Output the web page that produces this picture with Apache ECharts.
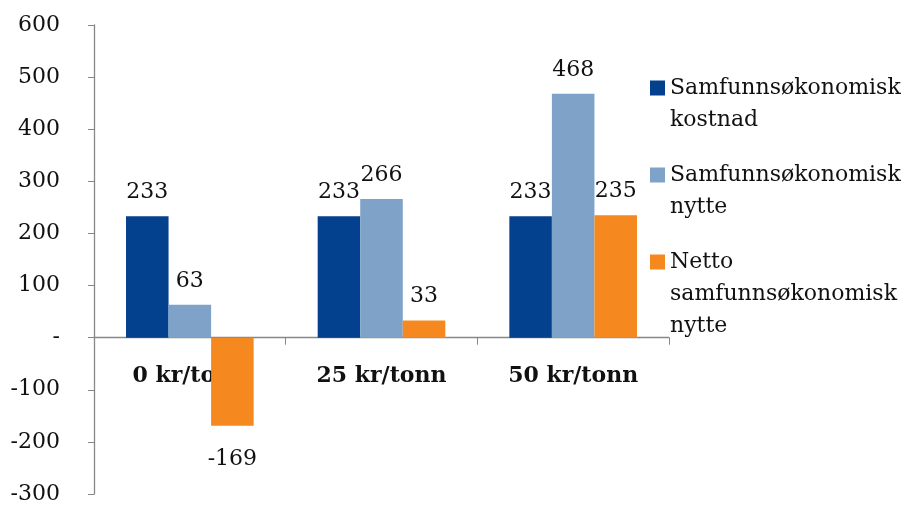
<!DOCTYPE html>
<html>
<head>
<meta charset="utf-8">
<script src="https://cdn.jsdelivr.net/npm/echarts@6/dist/echarts.min.js"></script>
<style>
  html, body { margin: 0; padding: 0; background: #fff; }
  #chart { width: 914px; height: 505px; }
</style>
</head>
<body>
<div id="chart"></div>
<script>
// data
const categories = ['0 kr/tonn', '25 kr/tonn', '50 kr/tonn']
const seriesNames = ['Samfunnsøkonomisk\nkostnad', 'Samfunnsøkonomisk\nnytte', 'Netto\nsamfunnsøkonomisk\nnytte']
const kostnad = [233, 233, 233]
const nytte = [63, 266, 468]
const netto = [-169, 33, 235]
const yTicks = [-300, -200, -100, 0, 100, 200, 300, 400, 500, 600]

const colors = ['#03418F', '#7FA2C9', '#F5891F']
const font = '"DejaVu Serif", serif'
const fs = 22
const lineH = 32

// grid box
const gridTop = 25, gridBottom = 11
const gridH = 505 - gridTop - gridBottom
// move the category axis up from the grid bottom to the zero line
const yMin = yTicks[0], yMax = yTicks[yTicks.length - 1]
const zeroShift = -gridH * (0 - yMin) / (yMax - yMin)

const chart = echarts.init(document.getElementById('chart'))

function makeSeries (name, values, color) {
  return {
    type: 'bar',
    name: name,
    barGap: '0%',
    barCategoryGap: '33.4%',
    itemStyle: { color: color },
    label: {
      show: true,
      position: 'top',
      distance: 13,
      color: '#111',
      fontFamily: font,
      fontSize: fs
    },
    // negative bars get their label under the bar
    data: values.map(v => v < 0 ? { value: v, label: { position: 'bottom', distance: 23 } } : v)
  }
}

// one legend per series; blank lines in front keep the icon on the first text line
const legendTops = [40, 127, 182]
const legends = seriesNames.map((n, i) => {
  const lines = n.split('\n').length
  return {
    data: [n],
    formatter: name => '\n'.repeat(lines - 1) + name,
    left: 650,
    top: legendTops[i],
    padding: 0,
    itemWidth: 15,
    itemHeight: 15,
    icon: 'rect',
    selectedMode: false,
    textStyle: {
      fontFamily: font,
      fontSize: fs,
      lineHeight: lineH,
      color: '#111'
    }
  }
})

const option = {
  animation: false,
  grid: { left: 94, right: 245, top: gridTop, bottom: gridBottom, outerBoundsMode: 'none' },
  legend: legends,
  xAxis: {
    type: 'category',
    data: categories,
    offset: zeroShift,
    axisLine: { onZero: false, lineStyle: { color: '#878787', width: 1.3 } },
    axisTick: { show: true, length: 7, lineStyle: { color: '#878787' } },
    axisLabel: {
      margin: 28,
      color: '#111',
      fontFamily: font,
      fontSize: fs,
      fontWeight: 'bold'
    }
  },
  yAxis: {
    type: 'value',
    min: yMin,
    max: yMax,
    interval: 100,
    axisLine: { show: true, lineStyle: { color: '#878787', width: 1.3 } },
    axisTick: { show: true, length: 6, lineStyle: { color: '#878787' } },
    splitLine: { show: false },
    axisLabel: {
      margin: 34,
      color: '#111',
      fontFamily: font,
      fontSize: fs,
      formatter: v => v === 0 ? '-' : String(v)
    }
  },
  series: [
    makeSeries(seriesNames[0], kostnad, colors[0]),
    makeSeries(seriesNames[1], nytte, colors[1]),
    makeSeries(seriesNames[2], netto, colors[2])
  ]
}

chart.setOption(option)
window.addEventListener('resize', function () {
  chart.resize()
})
</script>
</body>
</html>
